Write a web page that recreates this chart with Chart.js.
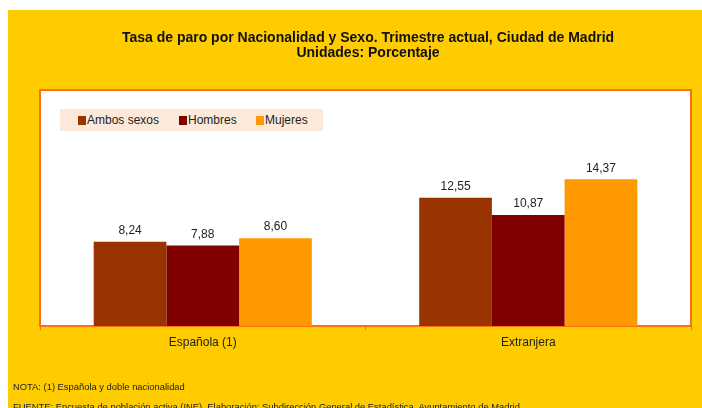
<!DOCTYPE html>
<html>
<head>
<meta charset="utf-8">
<script src="https://cdn.jsdelivr.net/npm/chart.js@4/dist/chart.umd.min.js"></script>
<style>
  html, body { margin: 0; padding: 0; background: #fff; }
  #wrap { position: relative; width: 702px; height: 408px; overflow: hidden; font-family: "Liberation Sans", Arial, sans-serif; color: #222; }
  #wrap canvas { position: absolute; left: 0; top: 0; }
  .title { position: absolute; left: 34px; right: 0; text-align: center; font-weight: bold; font-size: 14px; color: #111; line-height: 16px; }
  #legend { position: absolute; left: 60px; top: 109px; width: 263px; height: 22px; background: #FDE9DA; font-size: 12px; }
  #legend span.item { position: absolute; top: 4px; white-space: nowrap; line-height: 14px; }
  #legend i { display: inline-block; width: 8px; height: 9px; vertical-align: -1px; margin-right: 1px; }
  .note { position: absolute; left: 13px; font-size: 9.4px; white-space: nowrap; color: #222; }
</style>
</head>
<body>
<div id="wrap">
  <canvas id="chart" width="702" height="408"></canvas>
  <div class="title" style="top:29px">Tasa de paro por Nacionalidad y Sexo. Trimestre actual, Ciudad de Madrid</div>
  <div class="title" style="top:44px">Unidades: Porcentaje</div>
  <div id="legend"></div>
  <div class="note" style="top:381px">NOTA: (1) Española y doble nacionalidad</div>
  <div class="note" style="top:401px">FUENTE: Encuesta de población activa (INE). Elaboración: Subdirección General de Estadística. Ayuntamiento de Madrid</div>
</div>
<script>
// Values
var categories = ['Española (1)', 'Extranjera'];
var seriesNames = ['Ambos sexos', 'Hombres', 'Mujeres'];
var ambosSexos = [8.24, 12.55];
var hombres    = [7.88, 10.87];
var mujeres    = [8.60, 14.37];
var seriesColors = ['#993300', '#800000', '#FF9900'];

var ORANGE = '#FF6E12';

// yellow page + white plot box with orange frame
var frame = {
  id: 'frame',
  beforeDraw: function (chart) {
    var c = chart.ctx, a = chart.chartArea;
    c.save();
    c.fillStyle = '#FFCC00';
    c.fillRect(8, 10, chart.width - 8, chart.height - 10);
    c.fillStyle = '#fff';
    c.fillRect(a.left, a.top, a.right - a.left, a.bottom - a.top);
    c.restore();
  },
  afterDraw: function (chart) {
    var c = chart.ctx, a = chart.chartArea;
    c.save();
    c.strokeStyle = ORANGE;
    c.lineWidth = 2;
    c.beginPath();
    c.moveTo(a.left, a.bottom);
    c.lineTo(a.left, a.top);
    c.lineTo(a.right, a.top);
    c.lineTo(a.right, a.bottom);
    c.stroke();
    c.restore();
  }
};

// value labels with a decimal comma
var valueLabels = {
  id: 'valueLabels',
  afterDatasetsDraw: function (chart) {
    var c = chart.ctx;
    c.save();
    c.font = '12px "Liberation Sans", Arial, sans-serif';
    c.fillStyle = '#222';
    c.textAlign = 'center';
    c.textBaseline = 'bottom';
    chart.data.datasets.forEach(function (ds, di) {
      chart.getDatasetMeta(di).data.forEach(function (bar, i) {
        c.fillText(ds.data[i].toFixed(2).replace('.', ','), bar.x, bar.y - 5);
      });
    });
    c.restore();
  }
};

var seriesData = [ambosSexos, hombres, mujeres];

new Chart(document.getElementById('chart'), {
  type: 'bar',
  data: {
    labels: categories,
    datasets: seriesNames.map(function (n, i) {
      return {
        label: n,
        data: seriesData[i],
        backgroundColor: seriesColors[i],
        borderWidth: 0,
        categoryPercentage: 0.67,
        barPercentage: 1.0
      };
    })
  },
  options: {
    responsive: false,
    animation: false,
    events: [],
    layout: { padding: { left: 40, right: 11, top: 90, bottom: 52 } },
    plugins: { legend: { display: false }, tooltip: { enabled: false }, title: { display: false } },
    scales: {
      x: {
        afterFit: function (s) { s.height = 30; },
        border: { color: ORANGE, width: 2 },
        grid: { offset: true, drawOnChartArea: false, drawTicks: true, tickLength: 4, color: ORANGE, lineWidth: 1 },
        ticks: { color: '#222', padding: 5, font: { family: '"Liberation Sans", Arial, sans-serif', size: 12 } }
      },
      y: { display: false, min: 0, max: 23.1 }
    }
  },
  plugins: [frame, valueLabels]
});

// legend strip
var legendPos = [18, 119, 196];
var lg = document.getElementById('legend');
seriesNames.forEach(function (n, i) {
  var s = document.createElement('span');
  s.className = 'item';
  s.style.left = legendPos[i] + 'px';
  s.innerHTML = '<i style="background:' + seriesColors[i] + '"></i>' + n;
  lg.appendChild(s);
});
</script>
</body>
</html>
